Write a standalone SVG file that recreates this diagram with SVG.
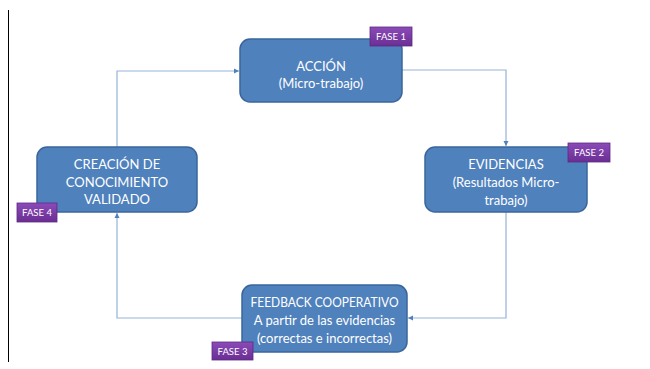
<svg xmlns="http://www.w3.org/2000/svg" width="650" height="369" viewBox="0 0 650 369">
<defs>
<style>
.box{fill:#4f81bd;stroke:#3a659a;stroke-width:1.5}
.t{font-family:Lato,"Open Sans","Liberation Sans",sans-serif;font-size:13px;fill:#ffffff;text-anchor:middle}
.badge{fill:url(#pg);stroke:#5c2a85;stroke-width:0.8}
.bt{font-family:Lato,"Open Sans","Liberation Sans",sans-serif;font-size:9.5px;fill:#ffffff;text-anchor:middle}
.c{fill:none;stroke:#95b3d7;stroke-width:1.2}
</style>
<linearGradient id="pg" x1="0" y1="0" x2="0" y2="1">
<stop offset="0" stop-color="#8b4bb8"/>
<stop offset="1" stop-color="#6a2e93"/>
</linearGradient>
<marker id="ah" markerWidth="6" markerHeight="6" refX="5" refY="3" orient="auto" markerUnits="userSpaceOnUse">
<path d="M0,0.5 L5,3 L0,5.5 Z" fill="#4f81bd"/>
</marker>
</defs>
<rect width="650" height="369" fill="#ffffff"/>
<line x1="8.5" y1="10" x2="8.5" y2="362" stroke="#000" stroke-width="1"/>
<g id="connectors">
<path class="c" d="M402,70 H506 V146" marker-end="url(#ah)"/>
<path class="c" d="M506,212 V318 H408" marker-end="url(#ah)"/>
<path class="c" d="M242,318 H117 V213" marker-end="url(#ah)"/>
<path class="c" d="M117,147 V71 H239" marker-end="url(#ah)"/>
</g>
<g id="accion">
<rect class="box" x="240" y="39" width="162" height="63" rx="10"/>
<text class="t" x="321" y="71">ACCIÓN</text>
<text class="t" x="321" y="88">(Micro-trabajo)</text>
<rect class="badge" x="370" y="27" width="42" height="19"/>
<text class="bt" x="391" y="40">FASE 1</text>
</g>
<g id="evidencias">
<rect class="box" x="425" y="147" width="162" height="65" rx="10"/>
<text class="t" x="506" y="169">EVIDENCIAS</text>
<text class="t" x="506" y="187">(Resultados Micro-</text>
<text class="t" x="506" y="205">trabajo)</text>
<rect class="badge" x="568" y="143" width="42" height="19"/>
<text class="bt" x="589" y="156">FASE 2</text>
</g>
<g id="feedback">
<rect class="box" x="242" y="285" width="165" height="67" rx="10"/>
<text class="t" x="324.5" y="307" textLength="148" lengthAdjust="spacingAndGlyphs">FEEDBACK COOPERATIVO</text>
<text class="t" x="324.5" y="325">A partir de las evidencias</text>
<text class="t" x="324.5" y="343">(correctas e incorrectas)</text>
<rect class="badge" x="212" y="342" width="41" height="18"/>
<text class="bt" x="232.5" y="355">FASE 3</text>
</g>
<g id="creacion">
<rect class="box" x="37" y="147" width="160" height="65" rx="10"/>
<text class="t" x="117" y="169">CREACIÓN DE</text>
<text class="t" x="117" y="187">CONOCIMIENTO</text>
<text class="t" x="117" y="204">VALIDADO</text>
<rect class="badge" x="17" y="203" width="40" height="19"/>
<text class="bt" x="37" y="216">FASE 4</text>
</g>
</svg>
